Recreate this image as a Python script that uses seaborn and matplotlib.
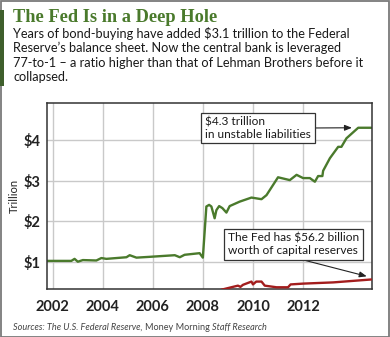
import matplotlib
matplotlib.use("Agg")
import matplotlib.pyplot as plt
from matplotlib.patches import Rectangle
import numpy as np
import pandas as pd
import seaborn as sns

# Fed balance sheet (trillions of dollars)
balance_years = [2001.78, 2002.75, 2002.88, 2003.01, 2003.21, 2003.75, 2003.95, 2004.15,
                 2004.95, 2005.08, 2005.35, 2005.88, 2006.88, 2007.08, 2007.27, 2007.87,
                 2008.0, 2008.14, 2008.25, 2008.34, 2008.47, 2008.54, 2008.65, 2008.78,
                 2008.94, 2009.07, 2009.47, 2009.94, 2010.34, 2010.54, 2011.0, 2011.47,
                 2011.74, 2012.0, 2012.27, 2012.47, 2012.6, 2012.77, 2012.8, 2013.07,
                 2013.4, 2013.53, 2013.73, 2014.2, 2014.72]
balance_trillions = [1.02, 1.02, 1.07, 1.00, 1.04, 1.03, 1.09, 1.07,
                     1.11, 1.16, 1.10, 1.12, 1.16, 1.11, 1.17, 1.21,
                     1.10, 2.36, 2.40, 2.36, 2.07, 2.27, 2.37, 2.32,
                     2.21, 2.37, 2.48, 2.58, 2.54, 2.64, 3.08, 3.01,
                     3.14, 3.06, 3.06, 2.97, 3.11, 3.11, 3.24, 3.55,
                     3.83, 3.83, 4.04, 4.3, 4.3]

# Fed capital reserves (billions of dollars), drawn on a hundred-billion scale
capital_years = [2008.74, 2009.2, 2009.4, 2009.5, 2009.6, 2009.94, 2010.0, 2010.13,
                 2010.34, 2010.47, 2010.94, 2011.4, 2011.5, 2012.0, 2013.2, 2014.72]
capital_billions = [31, 38, 41, 38, 43, 51, 44, 51,
                    51, 41, 37, 37, 44, 46, 49, 56.2]

year_ticks = [2002, 2004, 2006, 2008, 2010, 2012]
dollar_ticks = [1, 2, 3, 4]
dollar_labels = ["$1", "$2", "$3", "$4"]

title = "The Fed Is in a Deep Hole"
subtitle_lines = [
    "Years of bond-buying have added $3.1 trillion to the Federal",
    "Reserve\u2019s balance sheet. Now the central bank is leveraged",
    "77-to-1 \u2013 a ratio higher than that of Lehman Brothers before it",
    "collapsed.",
]
liab_note = "$4.3 trillion\nin unstable liabilities"
capital_note = "The Fed has $56.2 billion\nworth of capital reserves"

GREEN = "#4a7a2c"
RED = "#a31d1d"
SANS = ["Lato", "DejaVu Sans"]

sns.set_theme(style="whitegrid")
plt.rcParams["font.family"] = SANS

W, H = 390, 337
fig = plt.figure(figsize=(W / 100, H / 100), dpi=100)
fig.patch.set_facecolor("white")

def fx(px):
    return px / W

def fy(py):
    return 1 - py / H

# outer frame and accent bar
fig.patches.append(Rectangle((0.5 / W, 0.5 / H), 1 - 1.5 / W, 1 - 1.5 / H,
                             transform=fig.transFigure, fill=False,
                             edgecolor="#7a7a7a", lw=1.3))
fig.patches.append(Rectangle((0, fy(86)), 4 / W, 76 / H, transform=fig.transFigure,
                             facecolor="#3e5f2c", edgecolor="none"))

fig.text(fx(13), fy(22.5), title, family="Liberation Serif", weight="bold",
         size=13.2, color=GREEN, va="baseline", ha="left")
for i, line in enumerate(subtitle_lines):
    fig.text(fx(13), fy(37.5 + i * 14.6), line, size=9.2, color="#1a1a1a",
             va="baseline", ha="left")

ax = fig.add_axes([fx(47), fy(289.3), (372 - 47) / W, (289.3 - 103) / H])
ylo, yhi = 0.32, 4.91
xlo, xhi = 2001.78, 2014.75

bal = pd.DataFrame({"year": balance_years, "value": balance_trillions})
sns.lineplot(data=bal, x="year", y="value", ax=ax, color=GREEN, lw=1.7)

ax.set_xlim(xlo, xhi)
ax.set_ylim(ylo, yhi)
ax.set_xticks(year_ticks)
ax.set_xticklabels([str(y) for y in year_ticks])
ax.set_yticks(dollar_ticks)
ax.set_yticklabels(dollar_labels)
ax.tick_params(axis="both", length=0, labelsize=10.5, labelcolor="#222222")
ax.tick_params(axis="x", pad=8)
ax.tick_params(axis="y", pad=4.5)
for lab in ax.get_xticklabels() + ax.get_yticklabels():
    lab.set_fontweight("bold")
ax.set_xlabel("")
ax.set_ylabel("Trillion", size=8, color="#222222", labelpad=3)
ax.grid(True, color="#c9c9c9", lw=1.0)
for sp in ax.spines.values():
    sp.set_visible(True)
    sp.set_color("#333333")
    sp.set_linewidth(1.1)

ax2 = ax.twinx()
cap = pd.DataFrame({"year": capital_years, "value": capital_billions})
sns.lineplot(data=cap, x="year", y="value", ax=ax2, color=RED, lw=1.7)
ax2.set_ylim(ylo * 100, yhi * 100)
ax2.set_xlim(xlo, xhi)
ax2.set_yticks([])
ax2.set_ylabel("")
ax2.grid(False)
for sp in ax2.spines.values():
    sp.set_visible(False)

box = dict(boxstyle="square,pad=0.3", fc="white", ec="#333333", lw=0.9)
arrow = dict(arrowstyle="-|>,head_length=0.5,head_width=0.2", color="#222222",
             lw=0.8, shrinkA=0, shrinkB=0)

a1 = dict(arrow, relpos=(1.0, 0.5))
ax2.annotate(liab_note, xy=(2013.95, 4.3), xycoords=ax.transData,
             xytext=(258, H - 128), textcoords="figure pixels",
             ha="center", va="center", multialignment="left", size=8.6,
             color="#1a1a1a", bbox=box, arrowprops=a1, zorder=5)

a2 = dict(arrow, relpos=(0.47, 0.0))
ax2.annotate(capital_note, xy=(2014.54, 64), xycoords="data",
             xytext=(293.5, H - 244.5), textcoords="figure pixels",
             ha="center", va="center", multialignment="left", size=8.6,
             color="#1a1a1a", bbox=box, arrowprops=a2, zorder=5)

# source line with mixed italic pieces
pieces = [("Sources: The U.S. Federal Reserve, ", "italic"),
          ("Money Morning ", "normal"),
          ("Staff Research", "italic")]
fig.canvas.draw()
renderer = fig.canvas.get_renderer()
xpos = 13
for txt, style in pieces:
    t = fig.text(fx(xpos), fy(330), txt, size=6.6, style=style, color="#444444",
                 va="baseline", ha="left")
    xpos += t.get_window_extent(renderer).width

fig.savefig("out.png", dpi=100, facecolor="white")
